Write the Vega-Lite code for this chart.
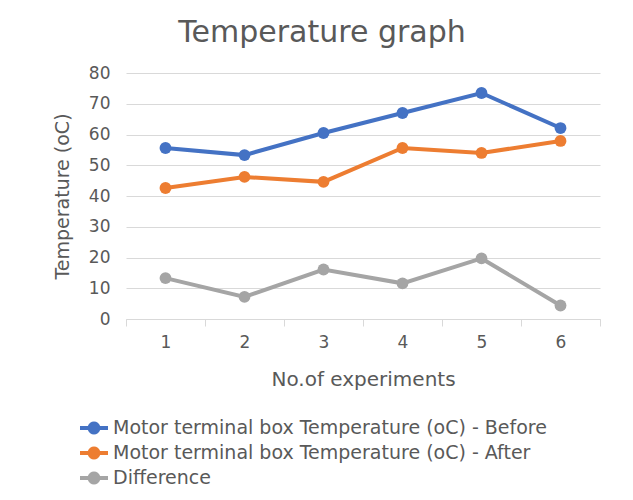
{
  "$schema": "https://vega.github.io/schema/vega-lite/v6.json",
  "width": 474,
  "height": 246,
  "autosize": "none",
  "padding": {"left": 126, "top": 73, "right": 33, "bottom": 181},
  "background": "white",
  "title": {
    "text": "Temperature graph",
    "fontSize": 30,
    "font": "DejaVu Sans",
    "fontWeight": "normal",
    "color": "#595959",
    "anchor": "middle",
    "dx": -41,
    "offset": 16
  },
  "data": {
    "values": [
      {"exp": "1", "series": "Motor terminal box Temperature (oC) - Before", "value": 55.6},
      {"exp": "2", "series": "Motor terminal box Temperature (oC) - Before", "value": 53.3},
      {"exp": "3", "series": "Motor terminal box Temperature (oC) - Before", "value": 60.5},
      {"exp": "4", "series": "Motor terminal box Temperature (oC) - Before", "value": 67.0},
      {"exp": "5", "series": "Motor terminal box Temperature (oC) - Before", "value": 73.5},
      {"exp": "6", "series": "Motor terminal box Temperature (oC) - Before", "value": 62.1},
      {"exp": "1", "series": "Motor terminal box Temperature (oC) - After", "value": 42.6},
      {"exp": "2", "series": "Motor terminal box Temperature (oC) - After", "value": 46.2},
      {"exp": "3", "series": "Motor terminal box Temperature (oC) - After", "value": 44.6},
      {"exp": "4", "series": "Motor terminal box Temperature (oC) - After", "value": 55.6},
      {"exp": "5", "series": "Motor terminal box Temperature (oC) - After", "value": 54.0},
      {"exp": "6", "series": "Motor terminal box Temperature (oC) - After", "value": 57.9},
      {"exp": "1", "series": "Difference", "value": 13.3},
      {"exp": "2", "series": "Difference", "value": 7.2},
      {"exp": "3", "series": "Difference", "value": 16.1},
      {"exp": "4", "series": "Difference", "value": 11.6},
      {"exp": "5", "series": "Difference", "value": 19.7},
      {"exp": "6", "series": "Difference", "value": 4.4}
    ]
  },
  "encoding": {
    "x": {
      "field": "exp",
      "type": "ordinal",
      "scale": {"paddingInner": 0, "paddingOuter": 0},
      "axis": {
        "title": "No.of experiments",
        "titleFontSize": 20,
        "labelAngle": 0,
        "tickBand": "extent",
        "domainColor": "#d9d9d9",
        "tickColor": "#d9d9d9",
        "tickSize": 7,
        "labelPadding": 8,
        "titlePadding": 19
      }
    },
    "y": {
      "field": "value",
      "type": "quantitative",
      "scale": {"domain": [0, 80]},
      "axis": {
        "title": "Temperature (oC)",
        "values": [0, 10, 20, 30, 40, 50, 60, 70, 80],
        "labelOverlap": false,
        "domain": false,
        "ticks": false,
        "gridColor": "#d9d9d9",
        "labelPadding": 16,
        "titlePadding": 16
      }
    },
    "color": {
      "field": "series",
      "type": "nominal",
      "sort": ["Motor terminal box Temperature (oC) - Before", "Motor terminal box Temperature (oC) - After", "Difference"],
      "scale": {
        "domain": ["Motor terminal box Temperature (oC) - Before", "Motor terminal box Temperature (oC) - After", "Difference"],
        "range": ["#4472C4", "#ED7D31", "#A5A5A5"]
      },
      "legend": {
        "title": null,
        "orient": "none",
        "legendX": -46,
        "legendY": 341,
        "symbolType": "M-1,-0.14 L-0.438,-0.14 A0.46,0.46 0 0 1 0.438,-0.14 L1,-0.14 L1,0.14 L0.438,0.14 A0.46,0.46 0 0 1 -0.438,0.14 L-1,0.14 Z",
        "symbolSize": 784,
        "symbolStrokeWidth": 0,
        "symbolOpacity": 1,
        "labelFontSize": 19,
        "labelFont": "DejaVu Sans",
        "labelColor": "#595959",
        "labelOffset": 5,
        "rowPadding": 1,
        "labelLimit": 600
      }
    }
  },
  "layer": [
    {"mark": {"type": "line", "strokeWidth": 4}},
    {"mark": {"type": "point", "filled": true, "opacity": 1, "size": 140}}
  ],
  "config": {
    "view": {"stroke": null},
    "axis": {
      "labelFont": "DejaVu Sans",
      "titleFont": "DejaVu Sans",
      "labelFontSize": 17,
      "titleFontSize": 19,
      "titleFontWeight": "normal",
      "labelColor": "#595959",
      "titleColor": "#595959"
    }
  }
}
